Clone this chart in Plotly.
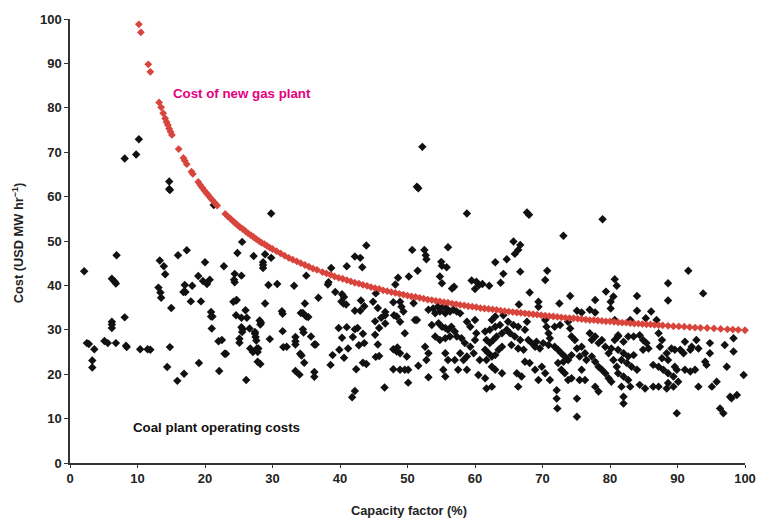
import plotly.graph_objects as go

# ---- Coal plant operating costs (capacity factor %, cost USD/MWh) ----
coal_x = [
    2.1, 2.5, 2.8, 3.6, 3.3, 3.3, 5.1, 5.6, 6.2, 6.6, 6.8, 6.2, 6.2, 6.2, 6.8, 8.1, 8.3, 8.4, 10.4, 11.5, 11.9,
    13.3, 13.1, 13.4, 13.5, 13.9, 14.1, 14.4, 14.8, 15.0, 15.9, 16.9, 17.0, 17.1, 16.8, 18.1, 17.9, 19.1, 19.0, 19.4, 19.7, 20.3, 20.7, 20.0,
    20.9, 21.1, 20.9, 21.0, 22.1, 22.0, 22.5, 22.8, 22.9, 23.1, 24.4, 24.3, 24.4, 24.2, 24.6, 24.7, 24.6, 25.1, 25.1, 25.4,
    25.4, 25.4, 25.6, 25.5, 26.0, 26.2, 26.1, 26.6, 26.7, 27.1, 27.4, 27.4, 27.5, 27.6, 27.7, 27.9, 27.8, 27.8, 28.2, 28.1, 28.3, 28.2,
    28.6, 28.6, 28.6, 28.9, 29.4, 29.6, 30.7, 31.4, 31.5, 31.5, 31.6, 32.1, 33.2, 33.4, 33.4, 33.4, 33.4, 34.0, 34.1, 34.3,
    34.2, 34.5, 35.0, 35.3, 34.8, 34.5, 34.6, 34.7, 35.0, 35.7, 36.2, 36.4, 36.2, 36.2, 36.8, 38.3, 38.2, 38.6, 38.9, 38.7, 39.3, 39.8,
    40.2, 40.5, 40.9, 40.3, 40.6, 40.3, 39.9, 40.6, 41.0, 41.0, 41.2, 41.9, 42.2, 42.6, 41.8, 42.2, 42.4, 42.2, 43.0, 42.8, 43.4, 43.1, 43.3, 43.6, 43.4, 43.9, 43.6,
    44.9, 45.2, 45.2, 45.3, 45.3, 45.6,
    8.1, 9.8, 10.2, 14.7, 14.7, 14.8, 21.3, 6.9, 16.0, 17.3, 24.8, 25.5, 27.2, 28.9, 29.8, 29.8, 42.2, 43.0, 43.9,
    46.1, 45.8, 45.6, 45.8, 46.6, 46.7, 46.7, 46.7, 47.9, 48.0, 47.9, 47.9, 48.5, 48.2,
    52.2, 51.4, 51.6, 58.8, 50.7, 52.5, 52.7, 52.8, 56.0, 55.0, 55.1, 55.8, 51.5, 50.2, 48.6, 54.8, 55.1, 56.6, 56.9, 59.5, 60.2, 60.6, 61.1, 62.1, 63.0, 64.7, 64.2, 63.8, 60.0,
    48.9, 49.1, 49.4, 48.4, 48.9, 50.9, 51.1, 51.4, 49.6, 53.1, 53.8, 54.5, 54.1, 54.8, 55.3, 55.8, 55.6, 56.3, 56.8, 57.3, 57.8,
    53.6, 54.6, 55.1, 55.6, 56.0, 56.5, 57.0, 54.1, 54.8, 55.6, 56.3, 57.3, 58.0, 58.8, 59.3, 60.0, 58.5, 59.3, 59.8, 58.8,
    57.8, 58.3, 57.5, 58.8, 52.6, 53.1, 52.8, 55.6, 56.0, 57.0, 55.3, 55.6, 53.1, 50.1, 49.6, 48.4, 48.9, 49.9, 50.1, 48.9, 51.6,
    60.2, 60.0, 61.5, 62.2, 62.5, 63.0, 64.2, 61.7, 62.2, 62.7, 63.2, 64.0, 64.7, 61.5, 62.0, 62.5, 63.0, 63.5, 64.0,
    60.7, 61.7, 62.5, 63.0, 64.0, 60.5, 61.7, 62.5, 61.5, 63.0, 63.7,
    67.7, 68.0, 78.9, 73.1, 65.7, 66.7, 66.4, 65.9, 66.7, 70.7, 70.4, 68.1, 74.1, 79.4, 80.5, 80.7, 81.0, 77.8, 80.1, 80.1, 69.4, 69.4, 66.5, 72.5, 75.1, 75.8, 77.0, 77.8,
    64.9, 65.7, 66.4, 65.2, 65.9, 66.7, 65.4, 66.4, 67.2, 67.7, 67.4, 67.9, 68.4, 69.1, 68.9, 69.6, 70.1, 70.9,
    67.4, 68.1, 68.9, 69.9, 70.4, 71.1, 69.4, 66.2, 66.9, 66.4, 70.4, 70.6, 70.9, 71.1,
    71.8, 72.3, 72.8, 73.3, 73.1, 73.8, 74.3, 72.3, 72.8, 73.3, 73.8, 74.3, 72.1, 72.1, 72.2, 75.1, 75.1,
    71.8, 72.6, 73.8, 74.1, 74.3, 74.8, 75.1, 75.8, 76.3, 75.5, 76.5, 75.8, 76.3, 75.5,
    77.0, 77.3, 77.8, 78.3, 78.8, 79.3, 79.8, 80.2, 80.7, 81.2, 77.3, 77.8, 78.3, 78.8, 79.3, 79.8, 80.2, 77.8, 78.3, 80.5, 81.0,
    91.6, 93.8, 88.6, 88.6, 84.0, 84.0, 86.1, 85.3, 86.9, 83.0, 80.7,
    81.2, 82.0, 82.7, 83.5, 84.4, 84.9, 85.4, 85.7, 84.9, 87.2, 87.7, 87.4, 88.4, 89.1, 89.6, 90.4,
    91.1, 92.1, 92.8, 94.8, 94.8, 97.0, 98.3, 98.3, 81.2, 82.0, 82.7, 83.5, 81.7, 82.5, 83.2, 84.0,
    81.2, 82.0, 82.7, 81.7, 83.0, 82.0, 82.0, 84.4, 85.2, 86.4, 87.2, 88.4, 88.6,
    86.4, 87.2, 87.9, 88.6, 89.4, 89.9, 90.1, 89.4, 87.7, 88.6, 89.6, 91.1, 91.9, 92.6, 90.9, 91.9, 93.1,
    94.1, 94.3, 93.1, 95.1, 95.8, 97.3, 99.8, 89.9, 96.3, 96.8, 97.8, 98.0, 98.8,
]
coal_y = [
    43.2, 27.0, 26.8, 25.6, 23.1, 21.5, 27.5, 27.0, 41.5, 40.9, 40.4, 31.8, 31.2, 30.4, 27.0, 32.8, 26.4, 26.1, 25.6, 25.6, 25.5,
    45.6, 39.5, 38.4, 37.2, 44.3, 42.5, 21.6, 26.1, 34.9, 18.5, 20.1, 40.1, 38.5, 38.5, 39.9, 36.4, 22.5, 42.1, 36.4, 41.0, 40.3, 41.3, 45.2,
    34.0, 33.0, 33.0, 30.3, 20.7, 27.4, 27.7, 44.3, 24.6, 24.6, 42.6, 41.3, 40.7, 36.3, 36.6, 36.7, 33.3, 28.0, 27.1, 42.2,
    32.7, 30.6, 30.1, 29.5, 34.4, 32.7, 18.7, 30.3, 25.8, 25.0, 29.5, 29.1, 28.4, 27.6, 25.8, 25.8, 25.0, 22.8, 22.3, 32.1, 31.6, 31.2,
    45.2, 44.6, 43.9, 35.9, 40.1, 27.9, 40.3, 34.2, 33.6, 29.7, 26.1, 26.2, 39.9, 28.4, 27.4, 26.7, 20.7, 19.9, 24.6, 24.2,
    33.8, 33.8, 33.0, 32.9, 35.9, 30.1, 29.4, 22.6, 42.2, 28.5, 26.7, 26.7, 20.5, 19.4, 37.2, 40.7, 40.2, 22.1, 24.3, 43.9, 38.5, 30.4,
    36.4, 35.9, 35.7, 38.0, 37.4, 28.2, 25.5, 23.7, 30.6, 44.3, 25.8, 28.4, 30.1, 30.4, 14.8, 16.2, 21.1, 34.3, 34.3, 26.5, 29.1, 36.6, 44.1, 35.3, 22.6, 22.3, 27.0,
    36.3, 31.9, 28.9, 23.9, 38.2, 26.7,
    68.6, 69.5, 72.9, 63.4, 61.7, 61.5, 58.1, 46.8, 46.8, 47.9, 47.3, 49.8, 46.6, 47.0, 46.2, 56.2, 46.5, 46.2, 49.0,
    32.7, 30.4, 34.9, 24.1, 17.0, 34.0, 33.3, 31.4, 36.2, 33.3, 25.6, 21.1, 26.0, 40.2,
    71.2, 62.2, 61.9, 56.2, 48.0, 48.0, 46.8, 45.9, 48.6, 45.3, 44.4, 44.1, 43.3, 42.0, 41.7, 42.0, 40.5, 39.3, 39.7, 41.1, 40.8, 40.1, 40.3, 39.9, 45.2, 45.9, 42.6, 40.6, 39.2,
    36.3, 35.2, 34.1, 33.0, 31.8, 36.0, 32.2, 32.2, 29.2, 34.5, 34.8, 35.2, 33.7, 34.1, 35.2, 34.8, 33.7, 34.1, 34.5, 34.1, 33.7,
    31.1, 31.5, 30.7, 30.4, 30.0, 30.7, 29.6, 28.5, 27.7, 28.1, 28.5, 28.5, 28.1, 31.8, 30.7, 32.2, 27.0, 26.2, 24.7, 24.0,
    24.7, 23.2, 21.0, 21.0, 26.2, 24.7, 23.2, 24.7, 23.2, 23.2, 21.0, 19.5, 19.3, 18.1, 21.0, 25.1, 24.7, 24.0, 21.0, 21.0, 21.9,
    29.2, 27.7, 29.6, 30.0, 32.2, 33.0, 33.3, 27.7, 27.0, 27.7, 28.5, 29.2, 30.0, 25.5, 24.7, 24.0, 24.3, 25.5, 26.2,
    23.2, 23.2, 21.7, 21.0, 20.2, 19.8, 16.8, 17.2, 19.1, 30.7, 31.1,
    56.4, 55.9, 54.9, 51.2, 49.9, 49.1, 48.0, 47.1, 43.1, 43.3, 41.2, 38.4, 37.6, 38.6, 37.5, 41.4, 39.9, 36.7, 36.3, 34.8, 36.3, 35.2, 35.7, 35.9, 34.3, 33.9, 34.5, 33.9,
    31.8, 31.1, 30.7, 29.2, 28.5, 27.7, 26.6, 25.8, 25.5, 31.8, 30.0, 27.7, 27.0, 27.3, 26.2, 25.8, 27.0, 26.6,
    22.8, 22.5, 21.0, 21.7, 20.2, 18.7, 18.7, 20.2, 19.5, 17.2, 32.2, 30.7, 29.2, 28.1,
    26.2, 25.5, 24.7, 24.0, 22.8, 23.2, 24.3, 22.5, 21.0, 20.2, 18.7, 19.1, 16.4, 14.5, 12.3, 14.5, 10.4,
    30.7, 31.1, 31.8, 30.3, 28.5, 27.7, 25.8, 26.2, 24.7, 24.0, 23.2, 21.0, 18.7, 18.7,
    29.2, 27.7, 28.5, 27.0, 27.7, 26.2, 24.7, 25.8, 27.7, 28.8, 24.0, 22.8, 21.7, 21.0, 20.2, 19.1, 18.3, 17.2, 16.1, 23.2, 21.7,
    43.3, 38.2, 40.5, 36.6, 37.6, 34.3, 34.1, 32.6, 32.2, 32.2, 32.2,
    28.5, 27.3, 28.5, 28.5, 28.8, 27.7, 27.0, 25.8, 25.5, 29.2, 27.7, 26.2, 24.7, 25.8, 25.5, 25.5,
    27.3, 26.2, 27.7, 27.0, 24.7, 26.6, 28.1, 25.1, 25.5, 24.7, 24.0, 24.3, 23.2, 22.5, 21.7, 21.0,
    20.2, 19.5, 18.7, 17.2, 17.2, 14.9, 13.4, 17.6, 16.8, 17.2, 17.2, 16.8, 18.0,
    22.1, 21.7, 21.0, 20.2, 19.5, 21.0, 18.3, 17.2, 23.6, 23.2, 21.7, 21.0, 20.6, 21.0, 24.7, 25.5, 25.8,
    22.8, 22.1, 17.2, 17.2, 18.3, 21.7, 19.8, 11.2, 12.3, 11.2, 14.9, 14.6, 15.3,
]

# ---- Cost of new gas plant ----
gas_x = [
    10.2, 10.5, 11.6, 11.9, 13.2, 13.5, 13.8, 14.1, 14.3, 14.5, 14.7, 14.9, 15.1, 16.1, 16.8, 17.0, 17.3, 18.0, 18.2,
    19.0, 19.3, 19.6, 19.9, 20.2, 20.5, 20.8, 21.1, 21.5, 21.8, 23.0, 23.4, 23.8, 24.2, 24.5, 24.8, 25.2, 25.6, 26.0,
    26.4, 26.8, 27.2, 27.6, 28.0, 28.4, 28.8, 29.2, 29.6, 30.0, 30.6, 31.2, 31.8, 32.4, 33.0, 33.6, 34.2, 34.8, 35.4,
    36.0, 36.6, 37.4, 38.0, 38.6, 39.2, 39.8, 40.4, 41.0, 41.6, 42.2, 42.8, 43.4, 44.0, 44.6, 45.2, 45.8, 46.4, 47.0,
    47.6, 48.2, 48.8, 49.4, 50.0, 50.6, 51.2, 51.8, 52.4, 53.0, 53.6, 54.2, 54.8, 55.4, 56.0, 56.6, 57.2, 57.8, 58.4,
    59.0, 59.6, 60.2, 60.8, 61.4, 62.0, 62.6, 63.2, 63.8, 64.4, 65.0, 65.6, 66.2, 66.8, 67.4, 68.0, 68.6, 69.2, 69.8,
    70.4, 71.0, 71.6, 72.2, 72.8, 73.4, 74.0, 74.6, 75.2, 75.8, 76.4, 77.0, 77.6, 78.2, 78.8, 79.4, 80.0, 80.6, 81.2,
    81.8, 82.4, 83.0, 83.6, 84.2, 84.8, 85.4, 86.0, 86.6, 87.2, 87.8, 88.6, 89.4, 90.2, 91.0, 91.8, 92.6, 93.4, 94.4,
    95.4, 96.4, 97.4, 98.2, 99.0, 100.0,
]
gas_y = [
    98.8, 97.0, 89.8, 88.1, 81.2, 80.1, 78.8, 77.6, 76.8, 76.1, 75.3, 74.6, 73.9, 70.7, 68.7, 68.1, 67.3, 65.6, 65.1,
    63.3, 62.6, 62.0, 61.4, 60.8, 60.3, 59.7, 59.2, 58.5, 58.0, 56.1, 55.5, 55.0, 54.4, 54.0, 53.6, 53.1, 52.7, 52.2,
    51.7, 51.3, 50.9, 50.4, 50.0, 49.6, 49.3, 48.9, 48.5, 48.2, 47.7, 47.2, 46.7, 46.2, 45.8, 45.4, 45.0, 44.6, 44.2,
    43.8, 43.5, 43.0, 42.7, 42.4, 42.0, 41.7, 41.5, 41.2, 40.9, 40.6, 40.4, 40.1, 39.9, 39.6, 39.4, 39.2, 38.9, 38.7,
    38.5, 38.3, 38.1, 37.9, 37.7, 37.5, 37.4, 37.2, 37.0, 36.8, 36.7, 36.5, 36.4, 36.2, 36.1, 35.9, 35.8, 35.6, 35.5,
    35.3, 35.2, 35.1, 34.9, 34.8, 34.7, 34.6, 34.5, 34.3, 34.2, 34.1, 34.0, 33.9, 33.8, 33.7, 33.6, 33.5, 33.4, 33.3,
    33.2, 33.1, 33.0, 32.9, 32.8, 32.7, 32.65, 32.6, 32.5, 32.4, 32.3, 32.2, 32.2, 32.1, 32.0, 31.9, 31.9, 31.8, 31.7,
    31.6, 31.6, 31.5, 31.4, 31.4, 31.3, 31.2, 31.2, 31.1, 31.05, 31.0, 30.9, 30.8, 30.75, 30.7, 30.6, 30.5, 30.45, 30.4,
    30.3, 30.2, 30.1, 30.05, 30.0, 29.9,
]

x_ticks = [0, 10, 20, 30, 40, 50, 60, 70, 80, 90, 100]
y_ticks = [0, 10, 20, 30, 40, 50, 60, 70, 80, 90, 100]

FONT = "Liberation Sans, Arial, Helvetica, sans-serif"
INK = "#222222"

fig = go.Figure()
fig.add_trace(go.Scatter(
    x=coal_x, y=coal_y, mode="markers", cliponaxis=False, hoverinfo="skip",
    marker=dict(symbol="diamond", size=6.5, color="#111111", line=dict(width=0)),
))
fig.add_trace(go.Scatter(
    x=gas_x, y=gas_y, mode="markers", cliponaxis=False, hoverinfo="skip",
    marker=dict(symbol="diamond", size=6, color="#d8453d", line=dict(width=0)),
))

fig.add_annotation(x=25.5, y=83.3, xref="x", yref="y", text="Cost of new gas plant",
                   showarrow=False, font=dict(family=FONT, size=13.3, color="#e6007e", weight="bold"))
fig.add_annotation(x=21.7, y=7.9, xref="x", yref="y", text="Coal plant operating costs",
                   showarrow=False, font=dict(family=FONT, size=13.3, color="#111111", weight="bold"))

# axis titles placed as annotations (paper coordinates)
fig.add_annotation(x=0.502, y=-0.108, xref="paper", yref="paper", text="Capacity factor (%)",
                   showarrow=False, xanchor="center", yanchor="middle",
                   font=dict(family=FONT, size=12.8, color=INK, weight="bold"))
fig.add_annotation(x=-0.077, y=0.495, xref="paper", yref="paper",
                   text="Cost (USD MW hr<sup>\u22121</sup>)", textangle=-90,
                   showarrow=False, xanchor="center", yanchor="middle",
                   font=dict(family=FONT, size=12.8, color=INK, weight="bold"))

axis_common = dict(
    range=[0, 100], tickmode="array", showgrid=False, zeroline=False,
    showline=True, linecolor="#333333", linewidth=1.5, automargin=False,
    ticks="outside", tickcolor="#333333", tickwidth=1.2,
    tickfont=dict(family=FONT, size=13, color=INK, weight="bold"),
)

fig.update_layout(
    width=758, height=518,
    margin=dict(l=70, r=13, t=19, b=55, pad=0, autoexpand=False),
    paper_bgcolor="white", plot_bgcolor="white",
    showlegend=False,
    font=dict(family=FONT, color=INK),
    xaxis=dict(**axis_common, tickvals=x_ticks, ticklen=3),
    yaxis=dict(**axis_common, tickvals=y_ticks, ticklen=4),
)

fig.write_html("out.html")
